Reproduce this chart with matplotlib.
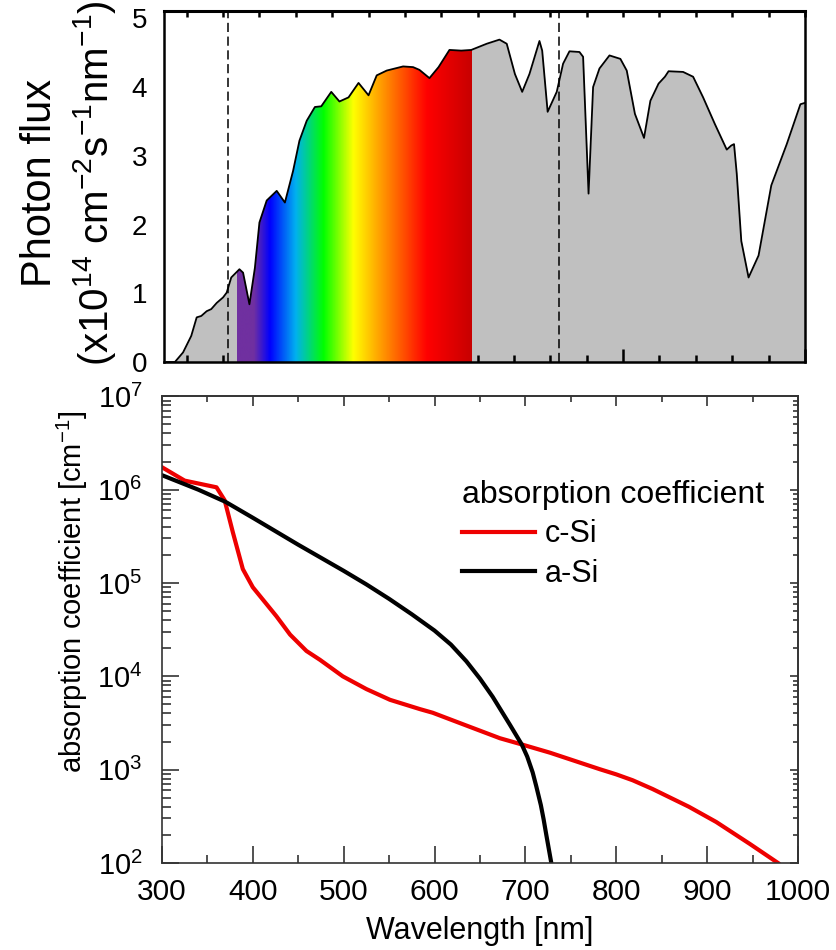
import numpy as np
import matplotlib
matplotlib.use("Agg")
import matplotlib.pyplot as plt
from matplotlib.colors import LinearSegmentedColormap
from matplotlib.ticker import MultipleLocator, FixedLocator, LogLocator, NullFormatter

plt.rcParams['font.family'] = ['Liberation Sans', 'DejaVu Sans']
plt.rcParams['mathtext.fontset'] = 'custom'
plt.rcParams['mathtext.rm'] = 'Liberation Sans'
plt.rcParams['mathtext.it'] = 'Liberation Sans:italic'
plt.rcParams['mathtext.bf'] = 'Liberation Sans:bold'
plt.rcParams['mathtext.default'] = 'regular'

# ---- top panel: solar photon flux (x1e14 cm^-2 s^-1 nm^-1) ----
spec_nm = [298, 307, 316, 325, 331, 336, 342, 347, 353, 360,
           364, 369, 378, 382, 389, 395, 400, 408, 419, 428,
           437, 444, 452, 461, 468, 479, 488, 498, 509, 520,
           529, 540, 558, 569, 576, 587, 597, 609, 622, 633,
           650, 664, 672, 681, 689, 697, 708, 711, 717, 727,
           734, 741, 752, 756, 762, 767, 774, 785, 797, 804,
           813, 823, 830, 839, 846, 850, 866, 877, 888, 901,
           914, 919, 922, 925, 930, 938, 949, 963, 980, 995,
           1000]
spec_flux = [0, 0, 0.14, 0.38, 0.65, 0.67, 0.74, 0.77, 0.86, 0.94,
             1.01, 1.23, 1.35, 1.30, 0.84, 1.37, 2.03, 2.35, 2.49, 2.32,
             2.78, 3.22, 3.51, 3.71, 3.72, 3.93, 3.79, 3.85, 4.06, 3.88,
             4.17, 4.24, 4.30, 4.29, 4.25, 4.13, 4.29, 4.54, 4.53, 4.54,
             4.63, 4.69, 4.63, 4.19, 3.93, 4.19, 4.67, 4.53, 3.64, 3.93,
             4.34, 4.52, 4.51, 4.44, 2.45, 4.00, 4.27, 4.46, 4.41, 4.24,
             3.61, 3.26, 3.80, 4.05, 4.15, 4.23, 4.22, 4.15, 3.85, 3.46,
             3.09, 3.15, 3.17, 2.74, 1.76, 1.23, 1.55, 2.57, 3.17, 3.75,
             3.77]
dash_nm = [365, 729]

# visible colour band
rainbow_nm = [375, 393, 411, 439, 470, 503, 532, 584, 633]
rainbow_colors = ['#7030a0', '#7030a0', '#0000ff', '#00b0f0', '#00ff00',
                  '#ffff00', '#ffa000', '#ff0000', '#c80000']

# ---- bottom panel: absorption coefficient (cm^-1) ----
csi_nm = [300, 325, 360, 369, 378, 389, 400, 426, 441, 459, 474, 499, 525,
          551, 584, 598, 635, 672, 697, 727, 782, 800, 818, 840, 880, 910,
          947, 978]
csi_alpha = [1.74e6, 1.25e6, 1.06e6, 7.7e5, 3.5e5, 1.41e5, 9.0e4, 4.4e4,
             2.8e4, 1.87e4, 1.5e4, 1.0e4, 7.3e3, 5.6e3, 4.45e3, 4.07e3,
             2.97e3, 2.17e3, 1.85e3, 1.52e3, 1.01e3, 8.9e2, 7.7e2, 6.2e2,
             4.0e2, 2.75e2, 1.6e2, 1.0e2]
asi_nm = [300, 340, 370, 400, 450, 500, 525, 550, 575, 600, 618, 635, 650,
          664, 683, 696, 702, 708, 712, 717, 720, 723, 728.5]
asi_alpha = [1.43e6, 1.0e6, 7.4e5, 5.0e5, 2.57e5, 1.35e5, 9.66e4, 6.76e4,
             4.62e4, 3.09e4, 2.19e4, 1.45e4, 9.44e3, 6.03e3, 3.02e3, 1.86e3,
             1.38e3, 9.33e2, 6.61e2, 4.17e2, 2.95e2, 2.0e2, 1.0e2]

fig = plt.figure(figsize=(8.37, 9.5), dpi=100)
ax1 = fig.add_axes([0.1959, 0.6189, 0.7658, 0.3695])
ax2 = fig.add_axes([0.1935, 0.0916, 0.7599, 0.4912])

# ---------------- top panel ----------------
gray = ax1.fill_between(spec_nm, spec_flux, 0, color='#c0c0c0', lw=0, zorder=1)
pos = [(v - rainbow_nm[0]) / (rainbow_nm[-1] - rainbow_nm[0]) for v in rainbow_nm]
cmap = LinearSegmentedColormap.from_list('vis', list(zip(pos, rainbow_colors)))
grad = np.linspace(0, 1, 600).reshape(1, -1)
im = ax1.imshow(grad, cmap=cmap, extent=(rainbow_nm[0], rainbow_nm[-1], 0, 5.2),
                aspect='auto', interpolation='bilinear', zorder=2)
im.set_clip_path(gray.get_paths()[0], transform=ax1.transData)
ax1.plot(spec_nm, spec_flux, color='k', lw=1.3, zorder=3)
for d in dash_nm:
    ax1.axvline(d, color='k', lw=1.1, ls=(0, (6, 3)), zorder=4)

ax1.set_xlim(295, 1000)
ax1.set_ylim(0, 5.106)
ax1.xaxis.set_major_locator(FixedLocator([400, 600, 800, 1000]))
ax1.xaxis.set_minor_locator(MultipleLocator(40))
ax1.tick_params(axis='x', which='major', direction='in', length=9.5, width=1.8,
                labelbottom=False)
ax1.tick_params(axis='x', which='minor', direction='in', length=5, width=1.8)
ax1.set_yticks(range(6))
ax1.tick_params(axis='y', length=0, pad=12, labelsize=20)
for s in ax1.spines.values():
    s.set_linewidth(1.8)
top1 = ax1.secondary_xaxis('top')
top1.set_xticks(np.arange(320, 1001, 40))
top1.tick_params(direction='in', length=4, width=1.8, labeltop=False)
top1.spines['top'].set_linewidth(2.2)

ax1.text(-0.193, 0.51, 'Photon flux', rotation=90, ha='center', va='center',
         fontsize=30, transform=ax1.transAxes)
ax1.text(-0.109, 0.51, r'(x10$^{14}$ cm$^{-2}$s$^{-1}$nm$^{-1}$)', rotation=90,
         ha='center', va='center', fontsize=29, transform=ax1.transAxes)

# ---------------- bottom panel ----------------
ax2.plot(csi_nm, csi_alpha, color='#ee0000', lw=3, label='c-Si')
ax2.plot(asi_nm, asi_alpha, color='k', lw=3, label='a-Si')
ax2.set_yscale('log')
ax2.set_xlim(300, 1000)
ax2.set_ylim(1e2, 1e7)

ax2.xaxis.set_major_locator(MultipleLocator(100))
ax2.xaxis.set_minor_locator(MultipleLocator(50))
ax2.yaxis.set_major_locator(LogLocator(base=10, numticks=10))
ax2.yaxis.set_minor_locator(LogLocator(base=10, subs=np.arange(2, 10), numticks=10))
ax2.yaxis.set_minor_formatter(NullFormatter())
ax2.tick_params(axis='x', which='major', direction='in', length=12, width=1.2,
                color='#333333', labelsize=21.5, pad=11)
ax2.tick_params(axis='x', which='minor', direction='in', length=6, width=1.2,
                color='#333333')
ax2.tick_params(axis='y', which='major', direction='in', length=12, width=1.2,
                color='#333333', labelsize=21, pad=14)
ax2.tick_params(axis='y', which='minor', direction='in', length=6.5, width=1.2,
                color='#333333')
for s in ax2.spines.values():
    s.set_linewidth(1.2)
    s.set_color('#333333')

top2 = ax2.secondary_xaxis('top')
top2.xaxis.set_major_locator(MultipleLocator(100))
top2.xaxis.set_minor_locator(MultipleLocator(50))
top2.tick_params(which='major', direction='in', length=7, width=1.2, color='#333333',
                 labeltop=False)
top2.tick_params(which='minor', direction='in', length=4, width=1.2, color='#333333')
top2.spines['top'].set_color('#333333')
top2.spines['top'].set_linewidth(1.2)

right2 = ax2.secondary_yaxis('right')
right2.yaxis.set_major_locator(LogLocator(base=10, numticks=10))
right2.yaxis.set_minor_locator(LogLocator(base=10, subs=np.arange(2, 10), numticks=10))
right2.yaxis.set_minor_formatter(NullFormatter())
right2.tick_params(which='major', direction='in', length=6, width=1.2, color='#333333',
                   labelright=False)
right2.tick_params(which='minor', direction='in', length=3.5, width=1.2,
                   color='#333333', labelright=False)
right2.spines['right'].set_color('#333333')
right2.spines['right'].set_linewidth(1.2)

ax2.set_xlabel('Wavelength [nm]', fontsize=22)
ax2.xaxis.set_label_coords(0.5, -0.114)
ax2.set_ylabel('absorption coefficient [cm$^{-1}$]', fontsize=21)
ax2.yaxis.set_label_coords(-0.113, 0.581)

ax2.legend(title='absorption coefficient', loc='upper left',
           bbox_to_anchor=(0.466, 0.828), frameon=False, fontsize=22,
           title_fontsize=23, handlelength=2.4, handletextpad=0.3,
           labelspacing=0.3, borderpad=0.12, borderaxespad=0, alignment='left')

fig.savefig('out.png', dpi=100)
